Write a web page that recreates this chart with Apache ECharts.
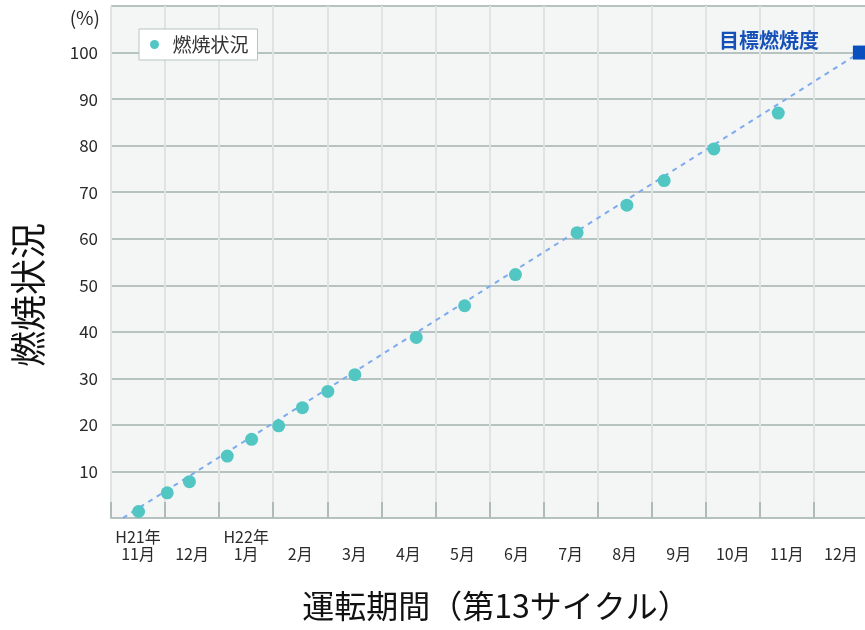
<!DOCTYPE html>
<html>
<head>
<meta charset="utf-8">
<script src="https://cdn.jsdelivr.net/npm/echarts@6/dist/echarts.min.js"></script>
<style>
  html, body { margin: 0; padding: 0; background: #fff; }
  #chart { width: 865px; height: 630px; }
</style>
</head>
<body>
<div id="chart"></div>
<script>
// Month bands along the bottom axis (H21年11月 – H22年12月)
const monthLabels = ['H21年\n11月', '\n12月', 'H22年\n1月', '\n2月', '\n3月', '\n4月', '\n5月',
                     '\n6月', '\n7月', '\n8月', '\n9月', '\n10月', '\n11月', '\n12月'];

// Measurement dates, in months from the start of 11月
const monthPos = [0.51, 1.04, 1.45, 2.15, 2.60, 3.10, 3.54, 4.01, 4.51,
                  5.645, 6.54, 7.48, 8.62, 9.54, 10.23, 11.15, 12.34];
// Burn-up (%) at each measurement
const burnup = [1.4, 5.4, 7.8, 13.3, 16.9, 19.8, 23.7, 27.2, 30.8,
                38.8, 45.6, 52.3, 61.3, 67.2, 72.5, 79.3, 87.0];

// Planned path from start to target burn-up
const planPos = [0.22, 13.85];
const planValue = [0, 100];

// Target burn-up point
const targetPos = [13.85];
const targetValue = [100];

const yTicks = [0, 10, 20, 30, 40, 50, 60, 70, 80, 90, 100, 110];

const jp = '"Noto Sans CJK JP", "Noto Sans", sans-serif';

const chart = echarts.init(document.getElementById('chart'), null, { renderer: 'canvas' });

chart.setOption({
  animation: false,
  textStyle: { fontFamily: jp },
  grid: {
    // the last month band runs slightly past the right edge of the page
    left: 111, top: 6, width: 757, bottom: 112,
    outerBoundsMode: 'none',
    containLabel: false,
    show: true,
    backgroundColor: '#f3f6f5',
    borderColor: '#b9c4c2',
    borderWidth: 1
  },
  legend: {
    data: ['燃焼状況'],
    left: 139, top: 29,
    orient: 'horizontal',
    backgroundColor: '#ffffff',
    borderColor: '#b9c4c2',
    borderWidth: 1,
    borderRadius: 0,
    padding: [6, 9, 6, 11],
    icon: 'circle',
    itemWidth: 26,
    itemHeight: 9,
    textStyle: { fontSize: 19, color: '#333', fontFamily: jp }
  },
  xAxis: [
    {
      type: 'category',
      data: monthLabels,
      boundaryGap: true,
      axisLine: { show: true, lineStyle: { color: '#b6c2bf', width: 2 } },
      axisTick: { show: true, inside: true, length: 16, alignWithLabel: false,
                  lineStyle: { color: '#aebbb8', width: 2 } },
      splitLine: { show: true, lineStyle: { color: '#dfe3e2', width: 2 } },
      axisLabel: { color: '#2a2a2a', fontSize: 16, lineHeight: 17, margin: 10,
                   interval: 0, fontFamily: jp }
    },
    {
      type: 'value',
      min: 0, max: 14,
      show: false
    }
  ],
  yAxis: {
    type: 'value',
    min: yTicks[0], max: yTicks[yTicks.length - 1], interval: 10,
    axisLine: { show: false },
    axisTick: { show: false },
    splitLine: { show: true, lineStyle: { color: '#b7c3c0', width: 2 } },
    axisLabel: {
      color: '#2a2a2a', fontSize: 17, margin: 13, fontFamily: jp,
      formatter: v => (v === yTicks[0] || v === yTicks[yTicks.length - 1]) ? '' : String(v)
    }
  },
  graphic: [
    { type: 'text', x: 100, y: 18,
      style: { text: '(%)', font: '19px ' + jp, fill: '#2a2a2a',
               textAlign: 'right', textVerticalAlign: 'middle' } },
    { type: 'text', x: 28, y: 295, rotation: Math.PI / 2,
      style: { text: '燃焼状況', font: '36px ' + jp, fill: '#111',
               textAlign: 'center', textVerticalAlign: 'middle' } },
    { type: 'text', x: 496, y: 606,
      style: { text: '運転期間（第13サイクル）', font: '32px ' + jp, fill: '#111',
               textAlign: 'center', textVerticalAlign: 'middle' } }
  ],
  series: [
    {
      name: '計画',
      type: 'line',
      xAxisIndex: 1,
      data: planPos.map((x, i) => [x, planValue[i]]),
      symbol: 'none',
      lineStyle: { color: '#7eaaf0', width: 2, type: [5, 5] },
      z: 2,
      silent: true
    },
    {
      name: '燃焼状況',
      type: 'scatter',
      xAxisIndex: 1,
      data: monthPos.map((x, i) => [x, burnup[i]]),
      symbol: 'circle',
      symbolSize: 13,
      itemStyle: { color: '#52c6c3', opacity: 1 },
      z: 3
    },
    {
      name: '目標燃焼度',
      type: 'scatter',
      xAxisIndex: 1,
      data: targetPos.map((x, i) => [x, targetValue[i]]),
      symbol: 'rect',
      symbolSize: 14,
      itemStyle: { color: '#0a4fc0', opacity: 1 },
      label: {
        show: true,
        position: 'left',
        distance: 34,
        offset: [0, -12],
        formatter: '目標燃焼度',
        color: '#1450b8',
        fontSize: 20,
        fontWeight: 'bold',
        fontFamily: jp
      },
      z: 4
    }
  ]
});
</script>
</body>
</html>
